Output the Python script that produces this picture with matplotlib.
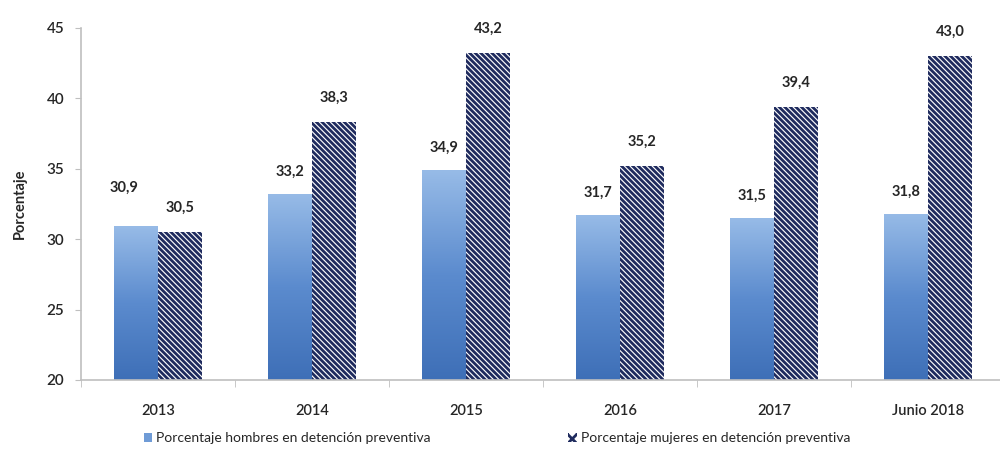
import numpy as np
import matplotlib
matplotlib.use("Agg")
import matplotlib.pyplot as plt
from matplotlib.patches import Patch
from matplotlib.colors import LinearSegmentedColormap

# Data
categories = ["2013", "2014", "2015", "2016", "2017", "Junio 2018"]
hombres = [30.9, 33.2, 34.9, 31.7, 31.5, 31.8]
mujeres = [30.5, 38.3, 43.2, 35.2, 39.4, 43.0]
y_ticks = [20, 25, 30, 35, 40, 45]
label_h = "Porcentaje hombres en detención preventiva"
label_m = "Porcentaje mujeres en detención preventiva"
y_label = "Porcentaje"

plt.rcParams["font.family"] = ["Lato", "DejaVu Sans"]
plt.rcParams["hatch.linewidth"] = 2.0

text_color = "#262626"
axis_color = "#bfbfbf"
navy = "#1f2b5e"

fig = plt.figure(figsize=(10, 4.65), dpi=100)
ax = fig.add_axes([0.081, 0.183, 0.924, 0.757])

x = np.arange(len(categories))
w = 0.285
y_min, y_max = y_ticks[0], y_ticks[-1]

bars_h = ax.bar(x - w / 2, hombres, w, color="#6f9bd6", linewidth=0, zorder=2)
bars_m = ax.bar(x + w / 2, mujeres, w, facecolor="white", edgecolor=navy,
                hatch="\\" * 6, linewidth=0, zorder=2)

# vertical gradient fill on the men's bars
cmap = LinearSegmentedColormap.from_list("blu", ["#3e6fb7", "#5b8bce", "#97bbe7"])
grad = np.linspace(0, 1, 256).reshape(-1, 1)
for b in bars_h:
    x0 = b.get_x()
    x1 = x0 + b.get_width()
    top = b.get_height()
    im = ax.imshow(grad, extent=(x0, x1, y_min, top), origin="lower", cmap=cmap,
                   aspect="auto", zorder=2.5)
    im.set_clip_path(b)

ax.set_xlim(-0.5, len(categories) - 0.5)
ax.set_ylim(y_min, y_max)
ax.set_yticks(y_ticks)
ax.set_xticks(x)
ax.set_xticklabels(categories)
ax.set_xticks(np.arange(len(categories) + 1) - 0.5, minor=True)

for s in ["top", "right"]:
    ax.spines[s].set_visible(False)
for s in ["left", "bottom"]:
    ax.spines[s].set_color(axis_color)
    ax.spines[s].set_linewidth(1.2)

ax.tick_params(axis="y", colors=axis_color, labelcolor=text_color, labelsize=11,
               length=4, direction="out", pad=8)
ax.tick_params(axis="x", which="major", length=0, labelcolor=text_color,
               labelsize=10.5, pad=17)
ax.tick_params(axis="x", which="minor", colors=axis_color, length=5, direction="out")
for lbl in ax.get_xticklabels() + ax.get_yticklabels():
    lbl.set_fontweight("semibold")

ax.set_ylabel(y_label, fontsize=10.5, fontweight="bold", color=text_color, labelpad=14)

def fmt(v):
    return f"{v:.1f}".replace(".", ",")

# per-label nudges (pixels) for labels that sit off the bar top
nudge_h = {0: (-12, 39)}

for i, (b, v) in enumerate(zip(bars_h, hombres)):
    dx, dy = nudge_h.get(i, (0, 22))
    ax.annotate(fmt(v), (b.get_x() + b.get_width() / 2, v), xytext=(dx, dy),
                textcoords="offset pixels", ha="center", va="center",
                fontsize=10.5, color=text_color, fontweight="bold")
for b, v in zip(bars_m, mujeres):
    ax.annotate(fmt(v), (b.get_x() + b.get_width() / 2, v), xytext=(0, 24),
                textcoords="offset pixels", ha="center", va="center",
                fontsize=10.5, color=text_color, fontweight="bold")

handles = [
    Patch(facecolor="#6f9bd6", edgecolor="none", label=label_h),
    Patch(facecolor="white", edgecolor=navy, hatch="xxx", linewidth=0, label=label_m),
]
fig.legend(handles=handles, loc="center", bbox_to_anchor=(0.497, 0.058), ncol=2,
           frameon=False, fontsize=10, handlelength=0.6, handleheight=0.6,
           handletextpad=0.3, columnspacing=9.9, labelcolor=text_color)

fig.savefig("out.png", dpi=100)
